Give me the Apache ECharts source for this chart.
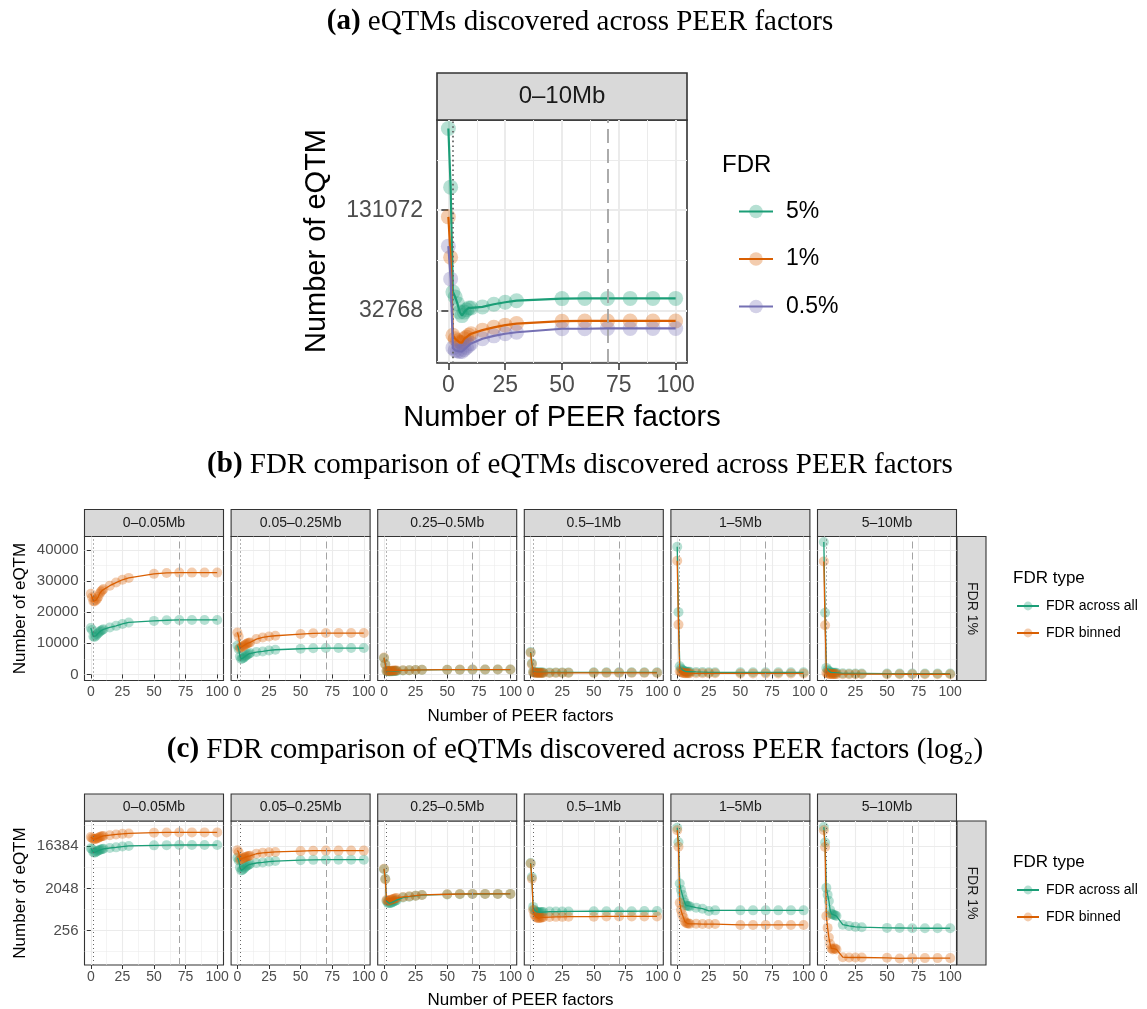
<!DOCTYPE html>
<html>
<head>
<meta charset="utf-8">
<script src="https://cdn.jsdelivr.net/npm/echarts@6/dist/echarts.min.js"></script>
<style>
  html, body { margin: 0; padding: 0; background: #ffffff; }
  #chart { width: 1147px; height: 1009px; }
</style>
</head>
<body>
<div id="chart"></div>
<script>
// Number of PEER factors used in each eQTM run
const peerFactors = [0, 1, 2, 3, 4, 5, 6, 7, 8, 9, 10, 15, 20, 25, 30, 50, 60, 70, 80, 90, 100];

// (a) eQTMs within 0-10Mb, FDR computed across all tests
const fdr5 = [403000, 180000, 42600, 39800, 36300, 32300, 30800, 32300, 33400, 34200, 34200, 34700, 36000, 37000, 37800, 38900, 39000, 39000, 39000, 39000, 39000];
const fdr1 = [119700, 68700, 23500, 22400, 21800, 21300, 21200, 22400, 22900, 23500, 24000, 25200, 26200, 27000, 27600, 28500, 28600, 28600, 28600, 28600, 28600];
const fdr05 = [80000, 51000, 19750, 19100, 18950, 18800, 18800, 19350, 19900, 20450, 21000, 22400, 23300, 24000, 24500, 25700, 25700, 25800, 25800, 25800, 25800];

// (b)/(c) FDR 1% per distance bin
const distanceBins = ['0–0.05Mb', '0.05–0.25Mb', '0.25–0.5Mb', '0.5–1Mb', '1–5Mb', '5–10Mb'];
const acrossAll_0_005 = [14900, 14300, 12200, 12000, 12400, 12900, 13300, 13700, 14000, 14300, 14500, 15100, 15600, 16200, 16700, 17200, 17400, 17500, 17500, 17500, 17500];
const binned_0_005 = [25900, 24800, 23500, 23400, 23800, 24300, 25000, 26000, 26600, 27000, 27400, 28500, 29500, 30400, 31000, 32300, 32600, 32700, 32700, 32700, 32700];
const acrossAll_005_025 = [9300, 8150, 5780, 4940, 5100, 5400, 5780, 6100, 6400, 6600, 6860, 7190, 7380, 7700, 7920, 8250, 8400, 8470, 8470, 8470, 8470];
const binned_005_025 = [13470, 12190, 8470, 8700, 8980, 9250, 9530, 9800, 10000, 10150, 10270, 11360, 11870, 12190, 12420, 12960, 13200, 13280, 13280, 13280, 13280];
const acrossAll_025_05 = [5300, 3300, 1100, 1000, 980, 990, 1010, 1050, 1080, 1110, 1140, 1300, 1360, 1420, 1470, 1520, 1540, 1550, 1550, 1560, 1560];
const binned_025_05 = [5400, 3200, 1150, 1100, 1120, 1150, 1180, 1200, 1230, 1250, 1270, 1340, 1380, 1430, 1480, 1530, 1550, 1560, 1560, 1560, 1560];
const acrossAll_05_1 = [7200, 3600, 820, 700, 660, 640, 630, 630, 630, 635, 640, 650, 650, 655, 655, 660, 660, 660, 660, 665, 665];
const binned_05_1 = [7000, 3300, 700, 560, 500, 480, 470, 475, 480, 485, 490, 495, 500, 500, 505, 505, 510, 510, 510, 510, 510];
const acrossAll_1_5 = [41000, 20000, 2600, 1900, 1500, 1200, 1000, 880, 860, 860, 840, 790, 750, 670, 690, 690, 690, 690, 690, 690, 690];
const binned_1_5 = [36500, 16000, 1000, 700, 560, 480, 400, 370, 360, 360, 355, 355, 350, 350, 350, 335, 335, 335, 335, 335, 335];
const acrossAll_5_10 = [42500, 19800, 2100, 1500, 1100, 700, 580, 560, 550, 540, 520, 340, 320, 305, 300, 290, 288, 286, 285, 285, 285];
const binned_5_10 = [36300, 15800, 520, 290, 180, 130, 105, 100, 104, 104, 100, 68, 67, 67, 67, 66, 64, 65, 65, 65, 65];

const acrossAllByBin = [acrossAll_0_005, acrossAll_005_025, acrossAll_025_05, acrossAll_05_1, acrossAll_1_5, acrossAll_5_10];
const binnedByBin = [binned_0_005, binned_005_025, binned_025_05, binned_05_1, binned_1_5, binned_5_10];

// Tick labels
const xTicks = [0, 25, 50, 75, 100];
const aTicks = [32768, 131072];
const bTicks = [0, 10000, 20000, 30000, 40000];
const cTicks = [256, 2048, 16384];

// Reference lines (PEER factors)
const dottedAt = 2;
const dashedAt = 70;

// ---------------------------------------------------------------
const SANS = '"Liberation Sans", Arial, Helvetica, sans-serif';
const SERIF = '"Liberation Serif", "Times New Roman", serif';
const TEAL = '#1B9E77', ORANGE = '#D95F02', PURPLE = '#7570B3';
const GRID_COL = '#EBEBEB', DARK = '#333333', TICK_TXT = '#4D4D4D';
const POINT_ALPHA = 0.32;
const X_MIN = -5, X_MAX = 105;

function midpointsLinear(t) {
  const step = t[1] - t[0];
  const out = [t[0] - step / 2];
  for (let i = 0; i < t.length; i++) out.push(t[i] + step / 2);
  return out;
}
function midpointsLog(t) {
  const r = Math.sqrt(t[1] / t[0]);
  const out = [t[0] / r];
  for (let i = 0; i < t.length; i++) out.push(t[i] * r);
  return out;
}
const xMinor = midpointsLinear(xTicks).filter(v => v > X_MIN && v < X_MAX);

const grids = [], xAxes = [], yAxes = [], series = [], graphics = [];

function addPanel(c) {
  const gi = grids.length;
  grids.push({
    left: c.left, top: c.top, width: c.width, height: c.height,
    show: true, borderColor: DARK, borderWidth: c.borderW, backgroundColor: '#ffffff',
    containLabel: false, outerBoundsMode: 'none'
  });
  const xi = xAxes.length, yi = yAxes.length;
  // minor grid axes
  xAxes.push({
    gridIndex: gi, type: 'value', min: X_MIN, max: X_MAX, position: 'top',
    axisLine: { show: false }, axisTick: { show: false, customValues: xMinor },
    axisLabel: { show: false }, splitLine: { show: true, lineStyle: { color: GRID_COL, width: c.minorW } }
  });
  const yBase = c.yType === 'log' ? { type: 'log', logBase: 2 } : { type: 'value' };
  yAxes.push(Object.assign({}, yBase, {
    gridIndex: gi, min: c.yMin, max: c.yMax, position: 'right',
    axisLine: { show: false }, axisTick: { show: false, customValues: c.yMinor },
    axisLabel: { show: false }, splitLine: { show: true, lineStyle: { color: GRID_COL, width: c.minorW } }
  }));
  // main axes
  xAxes.push({
    gridIndex: gi, type: 'value', min: X_MIN, max: X_MAX, position: 'bottom',
    axisLine: { show: false },
    axisTick: { show: true, customValues: xTicks, length: c.tickLen, lineStyle: { color: DARK, width: c.tickW } },
    axisLabel: { show: true, customValues: xTicks, margin: c.xMargin, color: TICK_TXT, fontSize: c.xFont, fontFamily: SANS, formatter: v => String(v) },
    splitLine: { show: true, lineStyle: { color: GRID_COL, width: c.majorW } }
  });
  yAxes.push(Object.assign({}, yBase, {
    gridIndex: gi, min: c.yMin, max: c.yMax, position: 'left',
    axisLine: { show: false },
    axisTick: { show: c.showY, customValues: c.yTicks, length: c.tickLen, lineStyle: { color: DARK, width: c.tickW } },
    axisLabel: { show: c.showY, customValues: c.yTicks, margin: c.yMargin, color: TICK_TXT, fontSize: c.yFont, fontFamily: SANS, formatter: v => String(Math.round(v)) },
    splitLine: { show: true, lineStyle: { color: GRID_COL, width: c.majorW } }
  }));

  // translucent points beneath, solid connecting lines above
  c.lines.forEach((ln) => {
    series.push({
      type: 'scatter', xAxisIndex: xi + 1, yAxisIndex: yi + 1,
      data: peerFactors.map((x, i) => [x, ln.values[i]]),
      symbol: 'circle', symbolSize: c.symbolSize,
      itemStyle: { color: ln.color, opacity: POINT_ALPHA },
      emphasis: { disabled: true }, silent: true, animation: false, z: 2
    });
  });
  c.lines.forEach((ln, k) => {
    const s = {
      type: 'line', name: ln.name, xAxisIndex: xi + 1, yAxisIndex: yi + 1,
      data: peerFactors.map((x, i) => [x, ln.values[i]]),
      symbol: 'none', showSymbol: false,
      itemStyle: { color: ln.color, opacity: POINT_ALPHA },
      lineStyle: { color: ln.color, width: c.lineW, opacity: 1 },
      emphasis: { disabled: true }, silent: true, animation: false, z: 3 + k
    };
    if (k === 0) {
      s.markLine = {
        silent: true, symbol: 'none', animation: false, label: { show: false },
        data: [
          { xAxis: dottedAt, lineStyle: { type: c.dotDash, color: '#666666', width: c.vlineW } },
          { xAxis: dashedAt, lineStyle: { type: c.dashDash, color: '#A3A3A3', width: c.vlineW } }
        ]
      };
    }
    series.push(s);
  });

  if (c.strip) {
    graphics.push({
      type: 'rect', shape: { x: c.left, y: c.top - c.stripH, width: c.width, height: c.stripH },
      style: { fill: '#D9D9D9', stroke: DARK, lineWidth: c.borderW }
    });
    graphics.push({
      type: 'text', x: c.left + c.width / 2, y: c.top - c.stripH / 2,
      style: { text: c.strip, fontSize: c.stripFont, fontFamily: SANS, fill: '#1A1A1A', align: 'center', verticalAlign: 'middle', textAlign: 'center', textVerticalAlign: 'middle' }
    });
  }
}

function addText(x, y, text, size, opts) {
  const o = opts || {};
  graphics.push({
    type: 'text', x: x, y: y, rotation: o.rotation || 0,
    style: Object.assign({
      text: text, fontSize: size, fontFamily: o.family || SANS, fill: o.fill || '#000000',
      align: o.align || 'center', verticalAlign: 'middle',
      textAlign: o.align || 'center', textVerticalAlign: 'middle'
    }, o.rich ? { rich: o.rich } : {})
  });
}

// ---------------- (a) ----------------
addText(580, 22, '{b|(a)} eQTMs discovered across PEER factors', 29,
  { family: SERIF, rich: { b: { fontWeight: 'bold', fontSize: 29, fontFamily: SERIF } } });
addPanel({
  left: 437, top: 120, width: 250, height: 243,
  yType: 'log', yMin: Math.pow(2, 13.97), yMax: Math.pow(2, 18.79),
  yTicks: aTicks, yMinor: midpointsLog(aTicks), showY: true,
  borderW: 1.6, majorW: 2, minorW: 1, tickLen: 7, tickW: 1.5,
  xFont: 23, yFont: 23, xMargin: 11, yMargin: 14,
  symbolSize: 15, lineW: 2.2, vlineW: 1.8, dotDash: [1.6, 3.2], dashDash: [14, 6],
  strip: '0–10Mb', stripH: 47, stripFont: 24,
  lines: [
    { name: '5%', color: TEAL, values: fdr5 },
    { name: '1%', color: ORANGE, values: fdr1 },
    { name: '0.5%', color: PURPLE, values: fdr05 }
  ]
});
addText(562, 418, 'Number of PEER factors', 29);
addText(317, 241, 'Number of eQTM', 29, { rotation: Math.PI / 2 });
addText(722, 165, 'FDR', 24, { align: 'left' });

// ---------------- (b) and (c) ----------------
const FACET_LEFT = 84.5, FACET_STEP = 146.6, FACET_W = 139, FACET_H = 144;

function facetRow(cfg) {
  distanceBins.forEach((bin, i) => {
    addPanel({
      left: FACET_LEFT + i * FACET_STEP, top: cfg.top, width: FACET_W, height: FACET_H,
      yType: cfg.yType, yMin: cfg.yMin, yMax: cfg.yMax,
      yTicks: cfg.yTicks, yMinor: cfg.yMinor, showY: i === 0,
      borderW: 1.1, majorW: 1.1, minorW: 0.55, tickLen: 4, tickW: 1,
      xFont: 14, yFont: 15, xMargin: 5, yMargin: 6,
      symbolSize: 10, lineW: 1.3, vlineW: 1, dotDash: [1, 3], dashDash: [7, 4],
      strip: bin, stripH: 27, stripFont: 14,
      lines: [
        { name: 'FDR across all', color: TEAL, values: acrossAllByBin[i] },
        { name: 'FDR binned', color: ORANGE, values: binnedByBin[i] }
      ]
    });
  });
  const rx = FACET_LEFT + 5 * FACET_STEP + FACET_W + 0.5;
  graphics.push({
    type: 'rect', shape: { x: rx, y: cfg.top, width: 29, height: FACET_H },
    style: { fill: '#D9D9D9', stroke: DARK, lineWidth: 1.1 }
  });
  addText(rx + 14.5, cfg.top + FACET_H / 2, 'FDR 1%', 14, { rotation: -Math.PI / 2, fill: '#1A1A1A' });
  addText(520.5, cfg.top + FACET_H + 35.5, 'Number of PEER factors', 17);
  addText(20, cfg.top + FACET_H / 2, 'Number of eQTM', 17, { rotation: Math.PI / 2 });
  addText(1013, cfg.legendTitleY, 'FDR type', 17, { align: 'left' });
}

addText(580, 465, '{b|(b)} FDR comparison of eQTMs discovered across PEER factors', 29,
  { family: SERIF, rich: { b: { fontWeight: 'bold', fontSize: 29, fontFamily: SERIF } } });
facetRow({
  top: 536.5, yType: 'value', yMin: -1950, yMax: 44300,
  yTicks: bTicks, yMinor: midpointsLinear(bTicks), legendTitleY: 578
});

addText(575, 750, '{b|(c)} FDR comparison of eQTMs discovered across PEER factors (log₂)', 29,
  { family: SERIF, rich: { b: { fontWeight: 'bold', fontSize: 29, fontFamily: SERIF } } });
facetRow({
  top: 821, yType: 'log', yMin: Math.pow(2, 5.53), yMax: Math.pow(2, 15.81),
  yTicks: cTicks, yMinor: midpointsLog(cTicks), legendTitleY: 862
});

const legendText = (size, pad) => ({ fontSize: size, fontFamily: SANS, color: '#000000', padding: [0, 0, 0, pad] });

const option = {
  animation: false,
  backgroundColor: '#ffffff',
  textStyle: { fontFamily: SANS },
  grid: grids,
  xAxis: xAxes,
  yAxis: yAxes,
  series: series,
  legend: [
    { orient: 'vertical', left: 738, top: 200, padding: 0, itemWidth: 34, itemHeight: 17, itemGap: 24.5,
      data: ['5%', '1%', '0.5%'], textStyle: legendText(23, 8), selectedMode: false },
    { orient: 'vertical', left: 1016, top: 599, padding: 0, itemWidth: 22, itemHeight: 11, itemGap: 13,
      data: ['FDR across all', 'FDR binned'], textStyle: legendText(14, 2), selectedMode: false },
    { orient: 'vertical', left: 1016, top: 883, padding: 0, itemWidth: 22, itemHeight: 11, itemGap: 13,
      data: ['FDR across all', 'FDR binned'], textStyle: legendText(14, 2), selectedMode: false }
  ],
  graphic: graphics
};

const chart = echarts.init(document.getElementById('chart'), null, { renderer: 'canvas' });
chart.setOption(option);
</script>
</body>
</html>
